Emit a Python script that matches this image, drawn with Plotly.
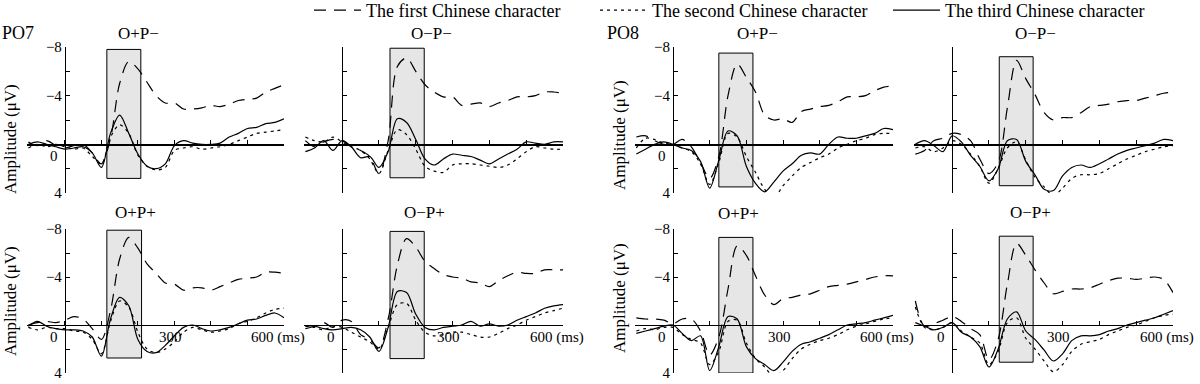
import plotly.graph_objects as go

# ---------------- data ----------------
t_ms = [-100, -75, -50, -25, 0, 25, 50, 75, 100, 125, 150, 175, 200, 225, 250,
        275, 300, 325, 350, 375, 400, 425, 450, 475, 500, 525, 550, 575, 600]

series_names = ["The first Chinese character", "The second Chinese character",
                "The third Chinese character"]

panel_titles = ["O+P\u2212", "O\u2212P\u2212", "O+P\u2212", "O\u2212P\u2212",
                "O+P+", "O\u2212P+", "O+P+", "O\u2212P+"]
electrodes = ["PO7", "PO8"]

# amplitude in microvolts (negative plotted upward)
first_char = [
    [-0.2, 0.1, -0.3, 0.1, 0.3, 0.1, 0.0, 0.7, 1.6, -0.5, -5.0, -6.8, -6.2, -5.1, -4.0, -3.4, -3.4, -2.9, -2.9, -3.0, -3.2, -3.1, -3.3, -3.6, -3.7, -3.8, -4.3, -4.6, -4.9],
    [-0.3, 0.2, -0.2, -0.4, -0.3, 0.2, 0.5, 1.0, 2.4, -0.3, -6.4, -7.1, -6.0, -4.9, -4.3, -3.9, -3.9, -3.2, -3.3, -3.4, -3.1, -3.4, -3.6, -3.9, -3.9, -4.0, -4.3, -4.3, -4.2],
    [-0.6, -0.7, -0.3, 0.0, 0.0, -0.4, 0.2, 1.5, 2.8, 1.0, -4.0, -6.6, -5.5, -4.3, -2.4, -2.0, -2.1, -1.8, -2.7, -2.9, -3.1, -3.2, -3.5, -3.9, -3.9, -4.0, -4.4, -4.7, -4.8],
    [0.8, 0.5, -0.3, -0.5, -0.9, -0.8, -0.3, 1.2, 2.4, 1.5, -3.0, -6.9, -5.4, -4.1, -2.6, -2.0, -2.2, -2.2, -2.6, -3.1, -3.2, -3.3, -3.5, -3.6, -3.6, -3.8, -4.0, -4.2, -4.3],
    [0.0, -0.2, -0.3, -0.2, -0.4, -0.7, -0.5, 0.3, 1.2, -1.2, -5.5, -7.3, -6.4, -5.1, -4.3, -3.5, -3.4, -2.9, -3.1, -3.1, -2.9, -3.2, -3.5, -3.8, -3.9, -4.0, -4.4, -4.4, -4.3],
    [0.3, 0.1, -0.2, 0.2, -0.4, -0.3, 0.8, 1.2, 1.9, -0.5, -5.0, -7.2, -6.5, -5.3, -4.7, -4.2, -4.0, -3.9, -3.6, -3.5, -3.2, -3.7, -4.1, -4.4, -4.3, -4.3, -4.6, -4.6, -4.6],
    [-0.6, -0.5, -0.5, -0.4, -0.1, -0.5, -0.5, 0.5, 2.5, 1.0, -3.0, -6.6, -5.8, -4.1, -2.5, -1.7, -2.2, -2.3, -2.5, -2.6, -2.9, -3.2, -3.3, -3.4, -3.6, -3.8, -4.0, -4.1, -4.1],
    [-2.0, 0.1, -0.1, -0.4, -0.7, -0.3, 0.3, 0.8, 2.9, 1.2, -3.4, -6.8, -5.8, -4.6, -3.5, -2.6, -2.8, -3.0, -3.0, -3.1, -3.4, -3.7, -3.9, -3.9, -3.8, -3.9, -4.0, -3.8, -2.7],
]
second_char = [
    [0.3, 0.0, 0.2, 0.0, 0.2, 0.4, 0.3, 1.0, 1.6, -0.6, -1.6, -0.9, 0.9, 1.8, 2.1, 1.9, 0.5, 0.3, 0.2, 0.4, 0.3, 0.2, 0.0, -0.3, -0.6, -0.9, -1.0, -1.1, -1.2],
    [-0.6, -0.3, -0.2, -0.6, -0.2, 0.2, 0.5, 1.2, 2.4, 0.5, -1.2, -0.8, 0.4, 1.8, 2.2, 2.3, 1.7, 1.6, 1.6, 1.7, 1.8, 1.9, 1.7, 1.2, 0.6, 0.2, 0.3, 0.4, 0.4],
    [0.3, -0.5, -0.4, -0.1, 0.0, 0.3, 0.6, 1.6, 3.3, 1.5, -0.9, -0.6, 1.0, 2.3, 3.7, 4.4, 3.4, 2.6, 1.9, 1.5, 1.1, 0.8, 0.3, 0.0, -0.3, -0.5, -0.8, -0.9, -0.9],
    [0.3, 0.2, 0.6, 0.3, -0.3, 0.0, 0.8, 1.8, 3.2, 2.0, 0.3, -0.2, 1.3, 2.7, 3.5, 4.2, 3.6, 2.8, 2.5, 2.5, 2.4, 2.0, 1.6, 1.2, 0.9, 0.6, 0.4, 0.2, 0.1],
    [0.2, 0.4, 0.2, 0.3, 0.3, 0.5, 0.6, 1.2, 2.4, -0.3, -2.0, -1.5, 0.6, 2.0, 2.3, 2.0, 1.4, 0.6, 0.2, 0.4, 0.6, 0.5, 0.3, -0.1, -0.3, -0.6, -1.0, -1.3, -1.4],
    [0.1, 0.2, 0.4, 0.1, 0.2, 0.6, 1.0, 1.4, 2.0, 0.2, -1.7, -1.8, -0.4, 0.6, 0.9, 0.8, 0.6, 0.6, 0.8, 1.0, 1.0, 0.7, 0.3, 0.0, -0.4, -0.7, -1.0, -1.2, -1.4],
    [0.5, 0.3, 0.4, 0.2, 0.2, 0.8, 1.2, 1.5, 3.3, 2.2, -0.3, -0.4, 1.5, 2.8, 3.5, 4.3, 3.8, 2.8, 2.0, 1.6, 1.3, 1.1, 0.8, 0.4, 0.1, -0.1, -0.3, -0.5, -0.6],
    [-1.5, 0.2, 0.4, 0.2, -0.2, 0.5, 1.0, 1.5, 3.3, 2.2, -0.2, -0.6, 1.1, 2.0, 3.0, 3.9, 3.3, 2.2, 1.6, 1.4, 1.2, 0.8, 0.5, 0.2, 0.0, -0.3, -0.6, -0.8, -0.9],
]
third_char = [
    [0.0, -0.2, 0.0, 0.2, 0.4, 0.3, 0.2, 0.7, 1.9, -0.9, -2.4, -0.9, 0.8, 1.8, 2.0, 1.6, 0.1, -0.3, -0.1, 0.0, 0.0, -0.1, -0.6, -0.9, -1.3, -1.4, -1.7, -1.8, -2.1],
    [0.6, 0.3, -0.3, 0.5, -0.3, 0.2, 1.1, 1.0, 1.9, 0.6, -2.1, -1.8, -0.4, 1.2, 1.7, 1.2, 0.8, 0.9, 1.0, 1.3, 1.6, 1.2, 0.8, 0.4, -0.2, -0.1, 0.0, -0.2, -0.2],
    [0.8, 0.4, 0.0, -0.2, 0.0, 0.3, 0.5, 1.4, 3.6, 1.3, -1.1, -0.7, 1.8, 3.2, 3.9, 3.1, 2.2, 1.6, 0.9, 0.7, 0.8, 0.0, -0.6, -0.5, -0.5, -0.7, -0.9, -1.3, -1.2],
    [0.0, -0.3, 0.1, 0.6, -0.7, -0.2, 0.9, 1.8, 3.0, 2.0, -0.3, -0.4, 1.4, 2.5, 3.7, 3.8, 2.6, 1.9, 1.7, 1.9, 1.6, 1.2, 0.8, 0.5, 0.3, 0.1, -0.1, -0.4, -0.3],
    [0.1, -0.3, 0.1, 0.3, 0.4, 0.4, 0.5, 1.0, 2.6, -0.5, -2.3, -1.6, 1.2, 2.2, 2.3, 1.7, 0.9, 0.2, 0.0, 0.3, 0.5, 0.4, 0.2, -0.1, -0.4, -0.5, -0.8, -1.0, -0.6],
    [0.1, 0.1, 0.3, 0.4, 0.3, 0.2, 0.4, 1.0, 2.2, 0.2, -2.8, -2.7, -0.9, 0.2, 0.4, 0.2, 0.1, 0.0, -0.3, 0.1, -0.1, 0.1, 0.0, -0.4, -0.7, -1.0, -1.4, -1.6, -1.7],
    [0.7, 0.5, 0.3, 0.1, 0.0, 0.7, 1.3, 0.9, 3.8, 1.8, -0.7, -0.5, 1.8, 2.8, 3.3, 3.8, 3.1, 2.2, 1.6, 1.4, 1.1, 0.8, 0.4, 0.0, -0.1, -0.2, -0.4, -0.6, -0.8],
    [-0.2, 0.1, 0.4, 0.2, -0.2, 0.6, 1.0, 1.8, 3.5, 2.0, -0.5, -1.1, 0.5, 1.2, 2.1, 3.0, 2.4, 1.3, 0.9, 0.9, 0.8, 0.5, 0.3, 0.0, -0.2, -0.4, -0.6, -0.9, -1.2],
]

# analysis windows (ms) and shaded box limits (microvolts)
win_start = [115, 130, 125, 128, 115, 130, 125, 128]
win_end = [208, 223, 218, 220, 210, 223, 218, 220]
box_top = [-7.8, -7.9, -7.5, -7.2, -7.9, -7.8, -7.3, -7.4]
box_bottom = [2.8, 2.75, 3.5, 3.4, 2.75, 2.8, 4.0, 3.1]

y_ticks = [-8, -6, -4, -2, 0, 2, 4]
y_ticktext = ["\u22128", "", "\u22124", "", "", "", "4"]
x_ticks = [0, 100, 200, 300, 400, 500, 600]

# ---------------- layout geometry (pixels) ----------------
W, H = 1200, 384
col_px = [(26.5, 284.0), (303.5, 563.0), (634.5, 893.0), (913.5, 1173.0)]
row_px = [(47.0, 193.0), (229.0, 373.0)]
X_RANGE = [-105, 600]
Y_RANGE = [4, -8]
FONT = "Liberation Serif"

dashes = ["12px,8px", "3px,4px", "solid"]
all_series = [first_char, second_char, third_char]
legend_ids = ["legend", "legend2", "legend3"]
legend_x_px = [309, 595, 888]

fig = go.Figure()
layout = {}
shapes = []
annotations = []

for i in range(8):
    k = i + 1
    r, c = divmod(i, 4)
    xd = [col_px[c][0] / W, col_px[c][1] / W]
    yd = [1 - row_px[r][1] / H, 1 - row_px[r][0] / H]
    xs = "" if k == 1 else str(k)
    zero_frac_y = yd[0] + (yd[1] - yd[0]) * (Y_RANGE[0] - 0) / (Y_RANGE[0] - Y_RANGE[1])
    zero_frac_x = xd[0] + (xd[1] - xd[0]) * (0 - X_RANGE[0]) / (X_RANGE[1] - X_RANGE[0])
    layout["xaxis" + xs] = dict(
        domain=xd, range=X_RANGE, anchor="free", position=zero_frac_y,
        showline=True, linecolor="black", linewidth=1.2, ticks="inside",
        tickvals=x_ticks, ticklen=4, tickcolor="black", tickwidth=1,
        showticklabels=False, showgrid=False, zeroline=False, fixedrange=True)
    layout["yaxis" + xs] = dict(
        domain=yd, range=Y_RANGE, anchor="free", position=zero_frac_x,
        showline=True, linecolor="black", linewidth=1.2, ticks="inside",
        tickvals=y_ticks, ticktext=y_ticktext, ticklen=4, tickcolor="black",
        tickwidth=1, showticklabels=(c in (0, 2)),
        tickfont=dict(family=FONT, size=15, color="black"),
        showgrid=False, zeroline=False, fixedrange=True)

    shapes.append(dict(type="rect", xref="x" + xs, yref="y" + xs,
                       x0=win_start[i], x1=win_end[i], y0=box_top[i], y1=box_bottom[i],
                       fillcolor="#e6e6e6", line=dict(color="black", width=1),
                       layer="below"))

    for s in range(3):
        fig.add_trace(go.Scatter(
            x=t_ms, y=all_series[s][i], mode="lines", name=series_names[s],
            line=dict(color="black", width=1.2, shape="spline", smoothing=0.9,
                      dash=dashes[s]),
            xaxis="x" + xs, yaxis="y" + xs, showlegend=(i == 0),
            legend=legend_ids[s], hoverinfo="skip"))

    # x tick labels
    if r == 1:
        xlabels = [(0, "0", -11), (300, "300", -4), (600, "600 (ms)", -6)]
    elif c in (0, 2):
        xlabels = [(0, "0", -11)]
    else:
        xlabels = []
    for xv, txt, xsh in xlabels:
        annotations.append(dict(x=xv, y=0, xref="x" + xs, yref="y" + xs, text=txt,
                                showarrow=False, xshift=xsh, yshift=-12,
                                xanchor="center", yanchor="middle",
                                font=dict(family=FONT, size=15, color="black")))

# panel titles (pixel centers)
title_px = [(138, 33), (431, 33), (757, 33), (1035, 33),
            (135, 212), (424, 212), (738, 213), (1030, 212)]
for i, (px, py) in enumerate(title_px):
    annotations.append(dict(x=px / W, y=1 - py / H, xref="paper", yref="paper",
                            text=panel_titles[i], showarrow=False,
                            xanchor="center", yanchor="middle",
                            font=dict(family=FONT, size=17, color="black")))

# electrode labels
for j, (px, py) in enumerate([(0, 33), (605, 33)]):
    annotations.append(dict(x=px / W, y=1 - py / H, xref="paper", yref="paper",
                            text=electrodes[j], showarrow=False, xanchor="left",
                            yanchor="middle",
                            font=dict(family=FONT, size=18, color="black")))

# y-axis titles
for px, py in [(10, 139), (10, 301), (619, 135), (619, 298)]:
    annotations.append(dict(x=px / W, y=1 - py / H, xref="paper", yref="paper",
                            text="Amplitude (\u03bcV)", showarrow=False, textangle=-90,
                            xanchor="center", yanchor="middle",
                            font=dict(family=FONT, size=17, color="black")))

legend_layouts = {}
for s, lid in enumerate(legend_ids):
    legend_layouts[lid] = dict(
        orientation="h", x=legend_x_px[s] / W, y=1 - 10.5 / H,
        xanchor="left", yanchor="middle",
        font=dict(family=FONT, size=18, color="black"),
        bgcolor="rgba(0,0,0,0)", borderwidth=0, itemwidth=47)

fig.update_layout(
    **layout,
    **legend_layouts,
    autosize=True,
    margin=dict(l=0, r=0, t=0, b=0, autoexpand=False),
    paper_bgcolor="white", plot_bgcolor="white",
    shapes=shapes, annotations=annotations,
    showlegend=True,
    font=dict(family=FONT, color="black"),
)

fig.write_html(
    "out.html", include_plotlyjs=True,
    config={"displayModeBar": False, "staticPlot": True},
    default_width="%dpx; position:absolute; left:0; top:0" % W,
    default_height="%dpx" % H,
    post_script=("document.documentElement.style.margin='0';"
                 "document.body.style.margin='0';"))
